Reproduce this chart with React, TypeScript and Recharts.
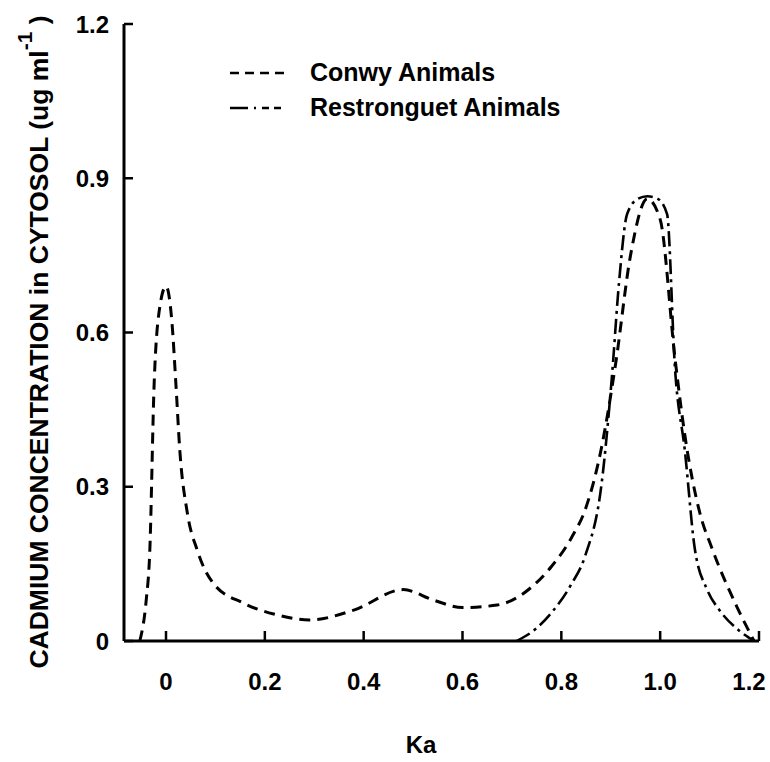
import { LineChart, Line, XAxis, YAxis, Legend } from 'recharts';

// Ka positions and cadmium values (ug/ml)
const conwyKa = [
  -0.053, -0.04, -0.033, -0.024, -0.014, 0, 0.012, 0.02, 0.028, 0.043, 0.063, 0.095, 0.156, 0.22,
  0.29, 0.38, 0.48, 0.54, 0.6, 0.67, 0.74, 0.78, 0.82, 0.85, 0.88, 0.91, 0.94, 0.974, 1.0, 1.03,
  1.05, 1.08, 1.105, 1.156, 1.19,
];
const conwyCd = [
  0, 0.08, 0.17, 0.5, 0.64, 0.69, 0.62, 0.5, 0.37, 0.25, 0.177, 0.113, 0.074, 0.052, 0.041, 0.06,
  0.1, 0.08, 0.065, 0.07, 0.105, 0.145, 0.2, 0.26, 0.37, 0.54, 0.75, 0.86, 0.82, 0.55, 0.4, 0.25,
  0.18, 0.065, 0,
];

const restKa = [0.71, 0.75, 0.78, 0.82, 0.848, 0.882, 0.902, 0.917, 0.933, 0.955, 0.974, 0.995, 1.014, 1.03, 1.05, 1.07, 1.095, 1.12, 1.16, 1.19];
const restCd = [0, 0.025, 0.055, 0.11, 0.165, 0.31, 0.51, 0.7, 0.83, 0.86, 0.865, 0.86, 0.83, 0.53, 0.37, 0.18, 0.1, 0.06, 0.02, 0];

const xTicks = [0, 0.2, 0.4, 0.6, 0.8, 1.0, 1.2];
const yTicks = [0, 0.3, 0.6, 0.9, 1.2];

const conwyData = conwyKa.map((ka, i) => ({ ka, cd: conwyCd[i] }));
const restData = restKa.map((ka, i) => ({ ka, cd: restCd[i] }));

const FONT = '"Liberation Sans", Arial, sans-serif';
const DASH = '11 7';
const DASH_DOT = '15 5 3 5';

const fmt = (v: number) => (v === 0 ? '0' : v.toFixed(1));

const XTick = ({ x, y, payload }: any) => (
  <g>
    <line x1={x} x2={x} y1={y - 32} y2={y - 42} stroke="#000" strokeWidth={2.5} />
    {/* last label sits a little left so it stays on the page, as in the scan */}
    <text
      x={payload.value === 1.2 ? x - 10 : x}
      y={y}
      dy="0.71em"
      textAnchor="middle"
      fontFamily={FONT}
      fontWeight="bold"
      fontSize={24}
      fill="#000"
    >
      {fmt(payload.value)}
    </text>
  </g>
);

const YTick = ({ x, y, payload }: any) => (
  <g>
    <line x1={x + 15} x2={x + 24} y1={y} y2={y} stroke="#000" strokeWidth={2.5} />
    <text x={x} y={y} dy="0.355em" textAnchor="end" fontFamily={FONT} fontWeight="bold" fontSize={24} fill="#000">
      {fmt(payload.value)}
    </text>
  </g>
);

const YLabel = () => (
  <text
    transform="translate(48, 342) rotate(-90)"
    textAnchor="middle"
    fontFamily={FONT}
    fontWeight="bold"
    fontSize={26.5}
    fill="#000"
  >
    CADMIUM CONCENTRATION in CYTOSOL (ug ml
    <tspan dy={-16} fontSize={21}>-1</tspan>
    <tspan dy={16}>{' )'}</tspan>
  </text>
);

const XLabel = () => (
  <text x={421} y={753} textAnchor="middle" fontFamily={FONT} fontWeight="bold" fontSize={24} fill="#000">
    Ka
  </text>
);

const LegendBox = () => (
  <div style={{ fontFamily: FONT, fontWeight: 'bold', fontSize: 25, lineHeight: '35px', color: '#000' }}>
    <div style={{ display: 'flex', alignItems: 'center' }}>
      <svg width={60} height={10}>
        <line x1={2} x2={56} y1={5} y2={5} stroke="#000" strokeWidth={2.5} strokeDasharray="9 6" />
      </svg>
      <span style={{ marginLeft: 22 }}>Conwy Animals</span>
    </div>
    <div style={{ display: 'flex', alignItems: 'center' }}>
      <svg width={60} height={10}>
        <line x1={2} x2={56} y1={5} y2={5} stroke="#000" strokeWidth={2.5} strokeDasharray="18 6 2 6 7 5 7" />
      </svg>
      <span style={{ marginLeft: 22 }}>Restronguet Animals</span>
    </div>
  </div>
);

export default function App() {
  return (
    <div style={{ width: 770, height: 762, background: '#fff', position: 'relative' }}>
      <style>{'body{margin:0}'}</style>
      <LineChart width={770} height={762} margin={{ top: 24, right: 11, bottom: 0, left: 0 }}>
        <XAxis
          type="number"
          dataKey="ka"
          domain={[-0.085, 1.2]}
          ticks={xTicks}
          allowDataOverflow
          height={121}
          tickSize={0}
          tickMargin={32}
          tick={<XTick />}
          axisLine={{ stroke: '#000', strokeWidth: 3 }}
          label={<XLabel />}
        />
        <YAxis
          type="number"
          domain={[0, 1.2]}
          ticks={yTicks}
          width={124}
          tickSize={0}
          tickMargin={15}
          tick={<YTick />}
          axisLine={{ stroke: '#000', strokeWidth: 3 }}
          label={<YLabel />}
        />
        <Legend
          layout="horizontal"
          verticalAlign="middle"
          align="center"
          content={<LegendBox />}
          wrapperStyle={{ top: 55, left: 228, width: 'auto' }}
        />
        <Line
          data={conwyData}
          dataKey="cd"
          name="Conwy Animals"
          type="monotone"
          stroke="#000"
          strokeWidth={3}
          strokeDasharray={DASH}
          dot={false}
          isAnimationActive={false}
        />
        <Line
          data={restData}
          dataKey="cd"
          name="Restronguet Animals"
          type="monotone"
          stroke="#000"
          strokeWidth={2.6}
          strokeDasharray={DASH_DOT}
          dot={false}
          isAnimationActive={false}
        />
      </LineChart>
    </div>
  );
}
